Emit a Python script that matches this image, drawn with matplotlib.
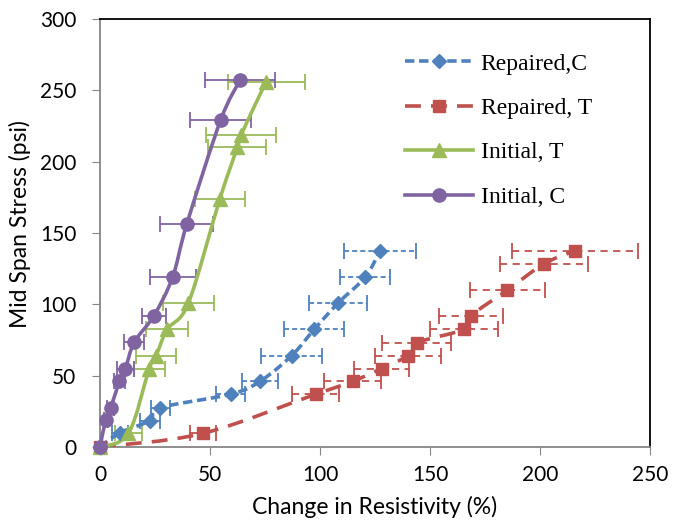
import numpy as np
import matplotlib.pyplot as plt
from matplotlib.path import Path
from matplotlib.patches import PathPatch
from matplotlib.lines import Line2D

# Repaired, C
rep_c_x = [0, 9.1, 22.7, 27.3, 59.4, 72.7, 87.1, 97.4, 108.3, 120.5, 127.3]
rep_c_y = [0, 10, 18.5, 27.5, 37, 46, 64, 82.5, 101, 119, 137.5]
rep_c_err = [0, 3.6, 4.5, 4.3, 6.6, 8.2, 13.8, 13.6, 13.2, 11.5, 16.5]

# Repaired, T
rep_t_x = [0, 46.7, 98, 114.8, 128, 139.9, 143.9, 165.5, 168.6, 185.2, 201.9, 215.8]
rep_t_y = [0, 9.5, 37, 46, 55, 64, 73, 82.5, 92, 110, 128.5, 137.5]
rep_t_err = [0, 6, 10.6, 12.9, 12.5, 15, 15.5, 15.6, 14.5, 17, 20, 28.6]

# Initial, T
ini_t_x = [0, 12.9, 22.4, 25.5, 30.6, 40.2, 54.5, 62.4, 64.2, 75.5]
ini_t_y = [0, 9.5, 55, 64, 82.5, 101, 174, 210, 219, 256]
ini_t_err = [0, 6, 7, 9, 9.6, 11.5, 11.5, 13.2, 16, 17.5]

# Initial, C
ini_c_x = [0, 2.6, 4.9, 8.8, 11.5, 15.6, 24.5, 33, 39.4, 54.8, 63.6]
ini_c_y = [0, 19, 27.5, 46, 55, 73.5, 92, 119, 156, 229, 257]
ini_c_err = [0, 1, 1.5, 2.5, 3.8, 4.5, 5.6, 10.5, 12, 14, 16]


def smooth_path(x, y):
    # excel-like smoothed line: catmull-rom as cubic bezier
    p = np.column_stack([x, y]).astype(float)
    verts = [p[0]]
    codes = [Path.MOVETO]
    n = len(p)
    for i in range(n - 1):
        p0 = p[i - 1] if i > 0 else p[i]
        p1 = p[i]
        p2 = p[i + 1]
        p3 = p[i + 2] if i + 2 < n else p[i + 1]
        c1 = p1 + (p2 - p0) / 6.0
        c2 = p2 - (p3 - p1) / 6.0
        verts += [c1, c2, p2]
        codes += [Path.CURVE4] * 3
    return Path(verts, codes)


series = [
    ("Repaired,C", rep_c_x, rep_c_y, rep_c_err, "#4F81BD", "D", 7.5, (0, (2.6, 1.3)), (0, (2.8, 1.7))),
    ("Repaired, T", rep_t_x, rep_t_y, rep_t_err, "#C0504D", "s", 8.5, (0, (4.4, 2.8)), (0, (4, 3))),
    ("Initial, T", ini_t_x, ini_t_y, ini_t_err, "#9BBB59", "^", 9.5, "-", "-"),
    ("Initial, C", ini_c_x, ini_c_y, ini_c_err, "#8064A2", "o", 9.5, "-", "-"),
]

fig = plt.figure(figsize=(6.73, 5.22), dpi=100)
ax = fig.add_axes([0.1486, 0.1437, 0.8172, 0.8199])

handles = []
for label, x, y, err, col, mk, ms, ls, els in series:
    eb = ax.errorbar(x, y, xerr=err, fmt="none", ecolor=col, elinewidth=1.3,
                     capsize=6, capthick=1.3, zorder=2)
    for lc in eb[2]:
        lc.set_linestyle(els)
    patch = PathPatch(smooth_path(x, y), facecolor="none", edgecolor=col,
                      lw=2.6, linestyle=ls, capstyle="butt", zorder=3)
    ax.add_patch(patch)
    ax.plot(x, y, ls="none", marker=mk, ms=ms, color=col, zorder=4, clip_on=False)
    handles.append(Line2D([], [], color=col, lw=2.6, linestyle=ls, marker=mk, ms=ms))

ax.set_xlim(0, 250)
ax.set_ylim(0, 300)
ax.set_xticks(np.arange(0, 251, 50))
ax.set_yticks(np.arange(0, 301, 50))
ax.tick_params(axis="both", direction="out", length=6, color="#868686", labelsize=15)
ax.tick_params(axis="x", pad=7)
ax.tick_params(axis="y", pad=11)
for s in ["left", "bottom"]:
    ax.spines[s].set_color("#868686")
    ax.spines[s].set_linewidth(1.3)
for s in ["top", "right"]:
    ax.spines[s].set_color("black")
    ax.spines[s].set_linewidth(1.3)

for t in ax.get_xticklabels() + ax.get_yticklabels():
    t.set_fontfamily("Lato")
ax.set_xlabel("Change in Resistivity (%)", fontsize=16.5, family="Lato", va="center")
ax.set_ylabel("Mid Span Stress (psi)", fontsize=16.5, family="Lato", va="center")
ax.xaxis.set_label_coords(0.5, -0.14)
ax.yaxis.set_label_coords(-0.145, 0.52)

ax.legend(handles, [s[0] for s in series], loc="upper left", frameon=False,
          prop={"family": "Liberation Serif", "size": 17}, handlelength=2.9,
          handletextpad=0.3, labelspacing=0.97, borderpad=0, borderaxespad=0,
          bbox_to_anchor=(0.6018, 0.8985), bbox_transform=fig.transFigure)

fig.savefig("out.png", dpi=100)
